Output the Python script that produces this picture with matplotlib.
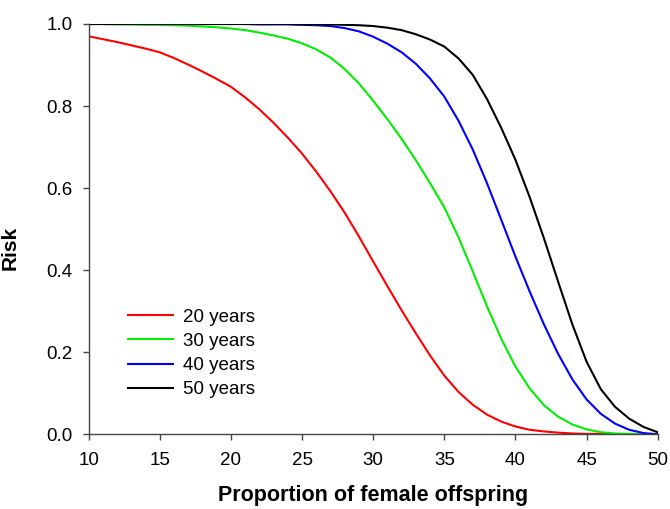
import matplotlib
matplotlib.use("Agg")
import matplotlib.pyplot as plt

plt.rcParams['font.family'] = ['Liberation Sans', 'DejaVu Sans']

x = list(range(10, 51))
risk_20 = [0.970, 0.963, 0.956, 0.948, 0.940, 0.931, 0.917, 0.901, 0.884, 0.866,
           0.847, 0.821, 0.792, 0.759, 0.723, 0.684, 0.640, 0.592, 0.540, 0.482,
           0.421, 0.361, 0.302, 0.246, 0.192, 0.143, 0.103, 0.072, 0.048, 0.031,
           0.019, 0.011, 0.007, 0.004, 0.002, 0.001, 0.001, 0.000, 0.000, 0.000, 0.000]
risk_30 = [1.000, 1.000, 0.999, 0.999, 0.998, 0.998, 0.997, 0.996, 0.994, 0.992,
           0.989, 0.985, 0.979, 0.972, 0.964, 0.953, 0.938, 0.918, 0.890, 0.855,
           0.813, 0.768, 0.720, 0.668, 0.612, 0.553, 0.480, 0.397, 0.312, 0.233,
           0.165, 0.112, 0.071, 0.043, 0.024, 0.012, 0.005, 0.002, 0.001, 0.000, 0.000]
risk_40 = [1.000, 1.000, 1.000, 1.000, 1.000, 1.000, 1.000, 1.000, 1.000, 1.000,
           1.000, 1.000, 0.999, 0.999, 0.999, 0.998, 0.997, 0.995, 0.990, 0.982,
           0.969, 0.952, 0.931, 0.903, 0.867, 0.823, 0.764, 0.694, 0.612, 0.523,
           0.433, 0.348, 0.268, 0.196, 0.134, 0.085, 0.050, 0.026, 0.011, 0.003, 0.000]
risk_50 = [1.000, 1.000, 1.000, 1.000, 1.000, 1.000, 1.000, 1.000, 1.000, 1.000,
           1.000, 1.000, 1.000, 1.000, 1.000, 0.999, 0.999, 0.999, 0.998, 0.997,
           0.995, 0.991, 0.985, 0.975, 0.962, 0.945, 0.916, 0.876, 0.817, 0.747,
           0.669, 0.578, 0.478, 0.372, 0.268, 0.177, 0.110, 0.067, 0.038, 0.018, 0.005]
labels = ["20 years", "30 years", "40 years", "50 years"]
colors = ["#ff0000", "#00ee00", "#0000ff", "#000000"]
xticks = [10, 15, 20, 25, 30, 35, 40, 45, 50]
yticks = [0.0, 0.2, 0.4, 0.6, 0.8, 1.0]

fig = plt.figure(figsize=(6.7, 5.09), dpi=100)
ax = fig.add_axes([88.7/670, 1-434.3/509, (657.7-88.7)/670, (434.3-24)/509])

for ys, lab, c in zip([risk_20, risk_30, risk_40, risk_50], labels, colors):
    ax.plot(x, ys, color=c, lw=1.5, label=lab, solid_joinstyle='round')

ax.set_xlim(10, 50)
ax.set_ylim(0, 1)
ax.set_xticks(xticks)
ax.set_xticklabels([str(t) for t in xticks])
ax.set_yticks(yticks)
ax.set_yticklabels([f"{t:.1f}" for t in yticks])

spc = "#444444"
for s in ["top", "right"]:
    ax.spines[s].set_visible(False)
for s in ["left", "bottom"]:
    ax.spines[s].set_color(spc)
    ax.spines[s].set_linewidth(1.0)
ax.tick_params(axis='both', direction='out', length=4.5, width=1.0, color=spc, labelsize=13.5, labelcolor='black')
ax.tick_params(axis='x', pad=8)
ax.tick_params(axis='y', pad=7)

ax.set_xlabel("Proportion of female offspring", fontsize=15.5, fontweight='bold', labelpad=12)
ax.set_ylabel("Risk", fontsize=15, fontweight='bold')
ax.yaxis.set_label_coords((20 - 88.7) / 569.0, (434.3 - 248) / 410.3)

leg = ax.legend(loc='center left', bbox_to_anchor=(0.069, 0.197), frameon=False,
                fontsize=13.5, borderaxespad=0, borderpad=0, handlelength=2.4,
                handletextpad=0.55, labelspacing=0.38)

fig.savefig("out.png", dpi=100)
